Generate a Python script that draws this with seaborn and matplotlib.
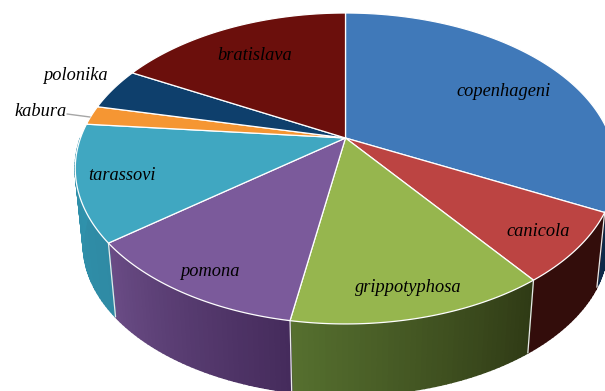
import numpy as np
import matplotlib
matplotlib.use("Agg")
import matplotlib.pyplot as plt
import matplotlib.transforms as mtrans
from matplotlib.path import Path
import seaborn as sns

categories = ["copenhageni", "canicola", "grippotyphosa", "pomona",
              "tarassovi", "kabura", "polonika", "bratislava"]
values = [32.5, 7.3, 12.9, 11.7, 12.1, 2.0, 4.4, 17.1]
top_colors = ["#4079B9", "#BC4442", "#96B64E", "#7B5A9B",
              "#40A7C1", "#F59633", "#0E3F6C", "#6B0F0C"]
side_start = ["#0E2A4A", "#330D0B", "#56702F", "#6A4C85",
              "#2F92AC", "#B06A20", "#0A2C4C", "#4C0A08"]
side_end = ["#0A2340", "#330D0B", "#2F3A15", "#452B5C",
            "#2F8AA4", "#B06A20", "#0A2C4C", "#4C0A08"]
label_pos = [(504, 91), (538, 232), (408, 288), (210, 272),
             (122, 175), (41, 111), (75, 76), (255, 55)]

sns.set_theme(style="white")
plt.rcParams["font.family"] = ["Liberation Serif", "DejaVu Serif"]

CX, CY, A, B, K = 345.5, 138.0, 265.0, 149.5, 0.196
SHRINK, DROP = 0.97, 77.0


def project(x, y, s=1.0, d=0.0):
    w = 1 + K * y
    return CX + A * s * x / w, CY - B * s * y / w + d


class Perspective(mtrans.Transform):
    input_dims = 2
    output_dims = 2
    has_inverse = False
    is_separable = False

    def transform_non_affine(self, values):
        v = np.asarray(values, dtype=float)
        px, py = project(v[:, 0], v[:, 1])
        return np.column_stack([px, py])

    def transform_path_non_affine(self, path):
        pts = []
        for seg, code in path.iter_bezier():
            if code == Path.MOVETO:
                pts.append(seg.control_points)
            else:
                pts.append(seg(np.linspace(0, 1, 33))[1:])
        return Path(self.transform_non_affine(np.vstack(pts)), closed=True)


fig = plt.figure(figsize=(6.05, 3.91), dpi=100)
ax = fig.add_axes([0, 0, 1, 1])
palette = sns.color_palette(top_colors)

edges = np.concatenate([[0], np.cumsum(values)]) / np.sum(values) * 2 * np.pi


def rim(theta, s=1.0, d=0.0):
    return project(np.sin(theta), np.cos(theta), s, d)


for i in range(len(values)):
    t1, t2 = edges[i], edges[i + 1]
    lo, hi = max(t1, np.pi / 2), min(t2, 3 * np.pi / 2)
    if hi <= lo:
        continue
    c0 = np.array(matplotlib.colors.to_rgb(side_start[i]))
    c1 = np.array(matplotlib.colors.to_rgb(side_end[i]))
    n = max(2, int(np.degrees(hi - lo)))
    th = np.linspace(lo, hi, n + 1)
    for j in range(n):
        xa, ya = rim(th[j:j + 2])
        xb, yb = rim(th[j:j + 2], SHRINK, DROP)
        frac = 1 - (j + .5) / n   # the slices run clockwise, so right to left
        col = c0 + (c1 - c0) * frac
        ax.fill([xa[0], xa[1], xb[1], xb[0]], [ya[0], ya[1], yb[1], yb[0]],
                color=col, lw=1.2, zorder=1)

for e in edges[:-1]:
    if np.cos(e) < -0.0:
        xa, ya = rim(e)
        xb, yb = rim(e, SHRINK, DROP)
        ax.plot([xa, xb], [ya, yb], color="#E8E8E8", lw=0.9, zorder=2)

wedges, _ = ax.pie(values, colors=palette, startangle=90, counterclock=False,
                   wedgeprops=dict(edgecolor="white", linewidth=0.9))
persp = Perspective()
for w in wedges:
    w.set_transform(persp + ax.transData)
    w.set_zorder(3)

ax.set_aspect("auto")
ax.set_xlim(0, 605)
ax.set_ylim(391, 0)
ax.axis("off")

for name, (lx, ly) in zip(categories, label_pos):
    ax.text(lx, ly, name, ha="center", va="center", style="italic",
            fontsize=13.2, color="black", zorder=5)

ax.plot([67, 90], [114, 117], color="#A6A6A6", lw=1, zorder=4)

fig.savefig("out.png", dpi=100)
